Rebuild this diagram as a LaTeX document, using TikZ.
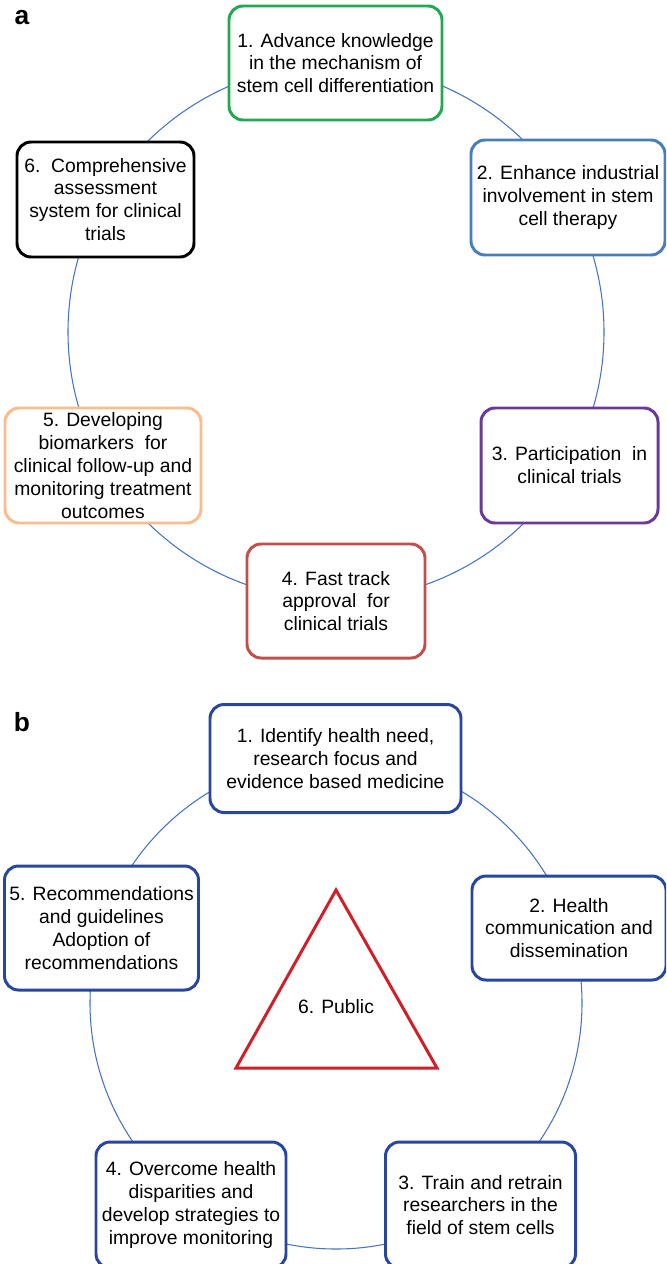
\documentclass[tikz,border=0pt]{standalone}
\usepackage{fontspec}
\setmainfont{Liberation Sans}
\definecolor{ringblue}{RGB}{68,114,196}
\definecolor{stepgreen}{RGB}{34,168,82}
\definecolor{stepblue}{RGB}{74,126,187}
\definecolor{steppurple}{RGB}{106,58,152}
\definecolor{stepred}{RGB}{192,80,77}
\definecolor{steporange}{RGB}{250,188,140}
\definecolor{navy}{RGB}{40,70,158}
\definecolor{publicred}{RGB}{210,30,40}
\begin{document}
\begin{tikzpicture}[
  x=0.02cm,
  y=-0.02cm,
  font=\fontsize{11}{13}\selectfont,
  ring/.style={draw=ringblue, line width=0.6pt},
  stepbox/.style={
    rectangle,
    rounded corners=8pt,
    fill=white,
    line width=1.7pt,
    align=center,
    inner sep=2pt
  },
  panellabel/.style={font=\fontsize{15}{17}\selectfont\bfseries, anchor=center},
  public/.style={draw=publicred, line width=1.7pt}
]

\useasboundingbox (0,0) rectangle (666,1264);
\clip (0,0) rectangle (666,1264);

% ---------------------------------------------------------------------------
% (a) six goals around a ring
% ---------------------------------------------------------------------------
\node[panellabel] (lblA) at (22,18) {a};
\coordinate (ringA) at (336,332);
\draw[ring] (ringA) circle[radius=268];

\node[stepbox, draw=stepgreen, minimum width=213*0.02cm, minimum height=114*0.02cm]
  (a1) at (335.5,63) {1. Advance knowledge\\in the mechanism of\\stem cell differentiation};
\node[stepbox, draw=stepblue, minimum width=194*0.02cm, minimum height=115*0.02cm]
  (a2) at (568,197.5) {2. Enhance industrial\\involvement in stem\\cell therapy};
\node[stepbox, draw=steppurple, minimum width=177*0.02cm, minimum height=115*0.02cm]
  (a3) at (569.5,465.5) {3. Participation\ \ in\\clinical trials};
\node[stepbox, draw=stepred, minimum width=178*0.02cm, minimum height=114*0.02cm]
  (a4) at (336,601) {4. Fast track\\approval\ \ for\\clinical trials};
\node[stepbox, draw=steporange, minimum width=196*0.02cm, minimum height=115*0.02cm]
  (a5) at (103,465.5) {5. Developing\\biomarkers\ \ for\\clinical follow-up and\\monitoring treatment\\outcomes};
\node[stepbox, draw=black, minimum width=177*0.02cm, minimum height=115*0.02cm]
  (a6) at (105.5,199.5) {6.\ \ Comprehensive\\assessment\\system for clinical\\trials};

% ---------------------------------------------------------------------------
% (b) five steps around the public
% ---------------------------------------------------------------------------
\node[panellabel] (lblB) at (22,722) {b};
\coordinate (ringB) at (336,1003);
\draw[ring] (ringB) circle[radius=246];

\node[stepbox, draw=navy, minimum width=251*0.02cm, minimum height=108*0.02cm]
  (b1) at (335.5,758.5) {1. Identify health need,\\research focus and\\evidence based medicine};
\node[stepbox, draw=navy, minimum width=194*0.02cm, minimum height=104*0.02cm]
  (b2) at (569,928) {2. Health\\communication and\\dissemination};
\node[stepbox, draw=navy, minimum width=190*0.02cm, minimum height=126*0.02cm]
  (b3) at (480.5,1205) {3. Train and retrain\\researchers in the\\field of stem cells};
\node[stepbox, draw=navy, minimum width=190*0.02cm, minimum height=126*0.02cm]
  (b4) at (191,1205) {4. Overcome health\\disparities and\\develop strategies to\\improve monitoring};
\node[stepbox, draw=navy, minimum width=194*0.02cm, minimum height=124*0.02cm]
  (b5) at (101.5,928) {5. Recommendations\\and guidelines\\Adoption of\\recommendations};

% central triangle
\coordinate (apex) at (336,890);
\coordinate (baseL) at (236,1068);
\coordinate (baseR) at (437,1068);
\draw[public, fill=white] (apex) -- (baseR) -- (baseL) -- cycle;
\node (b6) at (336,1007) {6. Public};

\end{tikzpicture}
\end{document}
